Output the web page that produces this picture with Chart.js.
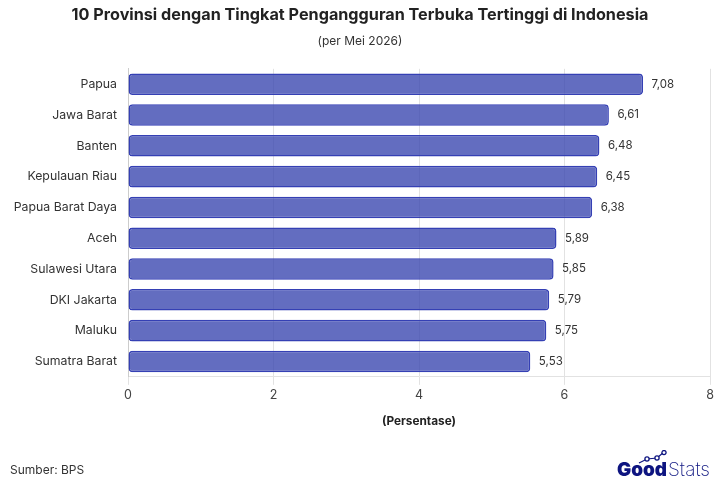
<!DOCTYPE html>
<html><head><meta charset="utf-8">
<script src="https://cdn.jsdelivr.net/npm/chart.js@4"></script>
<style>
html,body{margin:0;padding:0;background:#fff;width:720px;height:480px;overflow:hidden}
#wrap{position:relative;width:720px;height:480px}
#src{position:absolute;left:10px;top:462px;font:12px Inter,sans-serif;color:#333}
#logo{position:absolute;left:617px;top:450px;width:96px;height:28px}
</style></head><body>
<div id="wrap">
<canvas id="c" width="720" height="480"></canvas>
<div id="src">Sumber: BPS</div>
<svg id="logo" viewBox="0 0 96 28">
<polyline points="22,13 30,9 40,8 47,2" fill="none" stroke="#0d1480" stroke-width="1.2"/>
<circle cx="30" cy="9" r="2.1" fill="#fff" stroke="#0d1480" stroke-width="1.3"/>
<circle cx="40" cy="8" r="2.1" fill="#fff" stroke="#0d1480" stroke-width="1.3"/>
<circle cx="47" cy="2.6" r="2.1" fill="#fff" stroke="#0d1480" stroke-width="1.3"/>
<text x="0" y="25.5" font-family="Inter,sans-serif" font-size="19" font-weight="900" fill="#0d1480" textLength="50" lengthAdjust="spacingAndGlyphs">Good</text>
<text x="51" y="25.5" font-family="Inter,sans-serif" font-size="19" font-weight="200" fill="#0d1480" textLength="42" lengthAdjust="spacingAndGlyphs">Stats</text>
</svg>
</div>
<script>
const categories=["Papua","Jawa Barat","Banten","Kepulauan Riau","Papua Barat Daya","Aceh","Sulawesi Utara","DKI Jakarta","Maluku","Sumatra Barat"];
const values=[7.08,6.61,6.48,6.45,6.38,5.89,5.85,5.79,5.75,5.53];
const xTicks=[0,2,4,6,8];
const titleText="10 Provinsi dengan Tingkat Pengangguran Terbuka Tertinggi di Indonesia";
const subtitleText="(per Mei 2026)";
const axisTitle="(Persentase)";
const FONT="Inter, sans-serif";
const labelPlugin={id:"valueLabels",afterDatasetsDraw(ch){
  const g=ch.ctx,m=ch.getDatasetMeta(0);
  g.save();g.font="11.5px "+FONT;g.fillStyle="#333";g.textBaseline="middle";g.textAlign="left";
  m.data.forEach((b,i)=>g.fillText(values[i].toFixed(2).replace(".",","),b.x+8.5,b.y));
  g.restore();
}};
new Chart(document.getElementById("c"),{
  type:"bar",
  data:{labels:categories,datasets:[{data:values,backgroundColor:"rgba(60,72,176,0.8)",borderColor:"#3540b4",borderWidth:1.5,borderRadius:4,borderSkipped:false,barPercentage:0.7,categoryPercentage:1}]},
  plugins:[labelPlugin],
  options:{
    responsive:false,animation:false,indexAxis:"y",
    layout:{padding:{left:10,right:10,top:5,bottom:51}},
    plugins:{legend:{display:false},tooltip:{enabled:false},
      title:{display:true,text:titleText,color:"#222",font:{family:FONT,size:16.2,weight:"700"},padding:{top:0,bottom:10}},
      subtitle:{display:true,text:subtitleText,color:"#333",font:{family:FONT,size:12,weight:"400"},padding:{top:0,bottom:20}}
    },
    scales:{
      x:{min:0,max:8,afterBuildTicks(s){s.ticks=xTicks.map(v=>({value:v}))},
        grid:{color:"#e2e2e2",drawTicks:true,tickLength:8,tickColor:"#e2e2e2"},border:{color:"#e2e2e2"},
        ticks:{color:"#444",font:{family:FONT,size:12.5},padding:3,maxRotation:0},
        title:{display:true,text:axisTitle,color:"#222",font:{family:FONT,size:11.8,weight:"700"},padding:{top:9,bottom:0}}},
      y:{afterFit(s){s.width=118},grid:{display:false,tickLength:0},border:{color:"#ccc"},
        ticks:{color:"#333",font:{family:FONT,size:12.3},padding:11,autoSkip:false}}
    }
  }
});
</script></body></html>
